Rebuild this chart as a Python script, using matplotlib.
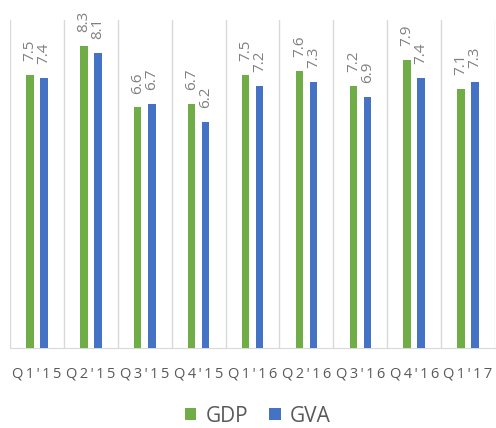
import matplotlib.pyplot as plt
import numpy as np

# dados do grafico
trimestres = ["Q1'15", "Q2'15", "Q3'15", "Q4'15", "Q1'16", "Q2'16", "Q3'16", "Q4'16", "Q1'17"]
gdp = [7.5, 8.3, 6.6, 6.7, 7.5, 7.6, 7.2, 7.9, 7.1]
gva = [7.4, 8.1, 6.7, 6.2, 7.2, 7.3, 6.9, 7.4, 7.3]

cor_gdp = '#70AD47'
cor_gva = '#4472C4'
cinza = '#595959'
fonte = ['Open Sans', 'DejaVu Sans']

fig = plt.figure(figsize=(4.96, 4.28), dpi=100)
ax = fig.add_axes([10/496, 80/428, 485/496, 328/428])

x = np.arange(len(trimestres))
larg = 0.14
ax.bar(x - 0.13, gdp, larg, color=cor_gdp, label='GDP', zorder=3)
ax.bar(x + 0.13, gva, larg, color=cor_gva, label='GVA', zorder=3)

# rotulos dos valores
for i in range(len(x)):
    ax.annotate(f'{gdp[i]:.1f}', (x[i] - 0.13, gdp[i]), xytext=(0, 10), textcoords='offset points',
                rotation=90, ha='center', va='bottom', fontsize=11, color='#808080', family=fonte)
    ax.annotate(f'{gva[i]:.1f}', (x[i] + 0.13, gva[i]), xytext=(0, 10), textcoords='offset points',
                rotation=90, ha='center', va='bottom', fontsize=11, color='#808080', family=fonte)

ax.set_xlim(-0.5, len(x) - 0.5)
ax.set_ylim(0, 9)

# linhas verticais entre categorias
for b in np.arange(-0.5, len(x), 1):
    ax.axvline(b, color='#d9d9d9', lw=1, zorder=1)

for s in ['top', 'left', 'right']:
    ax.spines[s].set_visible(False)
ax.spines['bottom'].set_color('#d9d9d9')
ax.set_yticks([])
ax.set_xticks(x)
ax.set_xticklabels(['\u2009'.join(t) for t in trimestres], fontsize=10.5, color=cinza, family=fonte)
ax.tick_params(axis='x', length=0, pad=13)

leg = fig.legend(loc='center', bbox_to_anchor=(0.52, 12/428), ncol=2, frameon=False,
                 prop={'family': fonte, 'size': 15}, labelcolor=cinza,
                 handlelength=0.55, handleheight=0.55, handletextpad=0.45, columnspacing=1.0)

plt.savefig('out.png', dpi=100)
